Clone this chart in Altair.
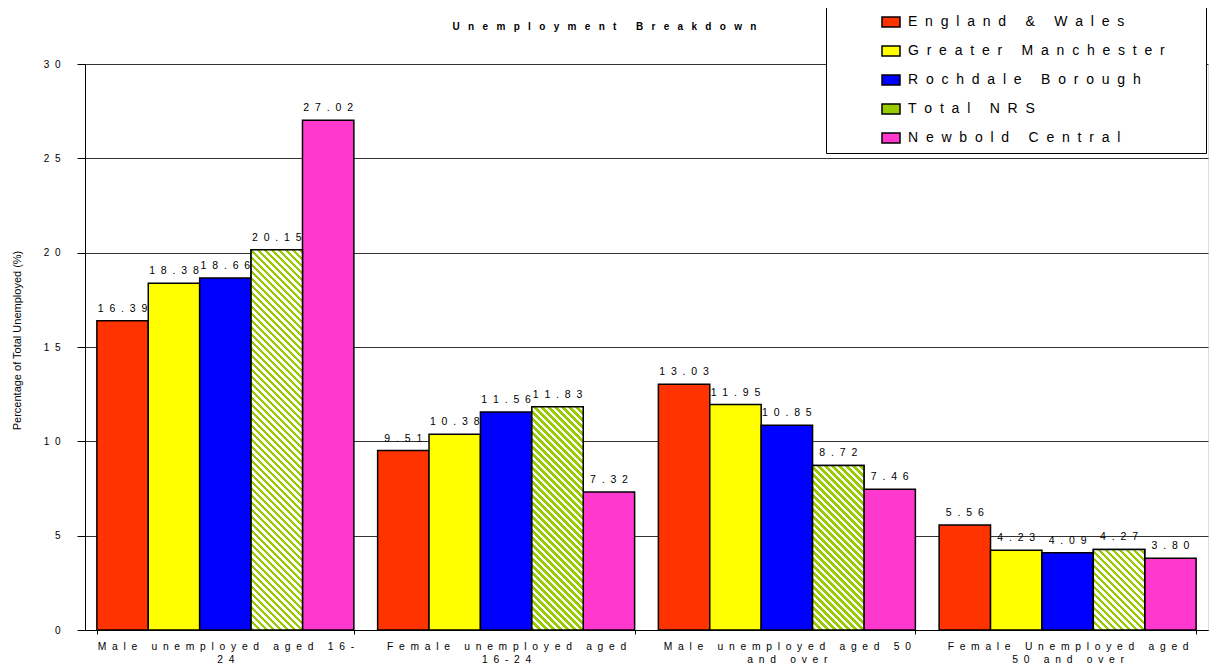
import altair as alt
import pandas as pd

# ---------------- data ----------------
categories = [
    "Male unemployed aged 16-24",
    "Female unemployed aged 16-24",
    "Male unemployed aged 50 and over",
    "Female Unemployed aged 50 and over",
]
category_lines = [
    ["Male unemployed aged 16-", "24"],
    ["Female unemployed aged", "16-24"],
    ["Male unemployed aged 50", "and over"],
    ["Female Unemployed aged", "50 and over"],
]
series = ["England & Wales", "Greater Manchester", "Rochdale Borough", "Total NRS", "Newbold Central"]
england_wales = [16.39, 9.51, 13.03, 5.56]
greater_manchester = [18.38, 10.38, 11.95, 4.23]
rochdale_borough = [18.66, 11.56, 10.85, 4.09]
total_nrs = [20.15, 11.83, 8.72, 4.27]
newbold_central = [27.02, 7.32, 7.46, 3.80]
series_values = [england_wales, greater_manchester, rochdale_borough, total_nrs, newbold_central]
colors = ["#ff3300", "#ffff00", "#0000ff", "#99cc00", "#ff38ce"]

NB = "\u00a0"
BLANK = "\u2800"  # blank (non-whitespace) filler to widen the legend box


def spaced(s, n=2):
    return (NB * n).join(ch if ch != " " else NB for ch in s)


cat_labels = ["|".join(spaced(l) for l in lines) for lines in category_lines]
ser_labels = [spaced(s) for s in series]

rows = []
for si, (s, vals) in enumerate(zip(series, series_values)):
    for ci, c in enumerate(categories):
        v = vals[ci]
        rows.append({
            "category": c,
            "cat_label": cat_labels[ci],
            "series": s,
            "ser_label": ser_labels[si],
            "value": v,
            "value_text": spaced(f"{v:.2f}"),
        })
df = pd.DataFrame(rows)

# ---------------- layout ----------------
W, H = 1123, 566
YMAX = 30
PAD_INNER = 0.0846
PAD_OUTER = PAD_INNER / 2
step = W / (len(categories) - PAD_INNER + 2 * PAD_OUTER)
bar_w = step * (1 - PAD_INNER) / len(series)

x_enc = alt.X(
    "cat_label:N",
    sort=cat_labels,
    scale=alt.Scale(paddingInner=PAD_INNER, paddingOuter=PAD_OUTER),
    axis=alt.Axis(
        title=None,
        labelAngle=0,
        labelExpr="split(datum.label, '|')",
        labelFont="Liberation Sans",
        labelFontSize=10.3,
        labelColor="black",
        labelBaseline="top",
        labelLineHeight=13,
        labelPadding=7,
        labelLimit=400,
        tickBand="extent",
        tickSize=4,
        tickColor="black",
        domainColor="black",
        grid=False,
    ),
)
xoff_enc = alt.XOffset("ser_label:N", sort=ser_labels, scale=alt.Scale(domain=ser_labels))
y_enc = alt.Y(
    "value:Q",
    scale=alt.Scale(domain=[0, YMAX], nice=False),
    axis=alt.Axis(
        title="Percentage of Total Unemployed (%)",
        titleFont="Liberation Sans",
        titleFontSize=11,
        titleFontWeight="normal",
        titleColor="black",
        titleAngle=-90,
        titleAlign="center",
        titleBaseline="middle",
        titleX=-68,
        titleY=276,
        values=[0, 5, 10, 15, 20, 25, 30],
        labelExpr=f"join(split(datum.label, ''), '{NB * 2}')",
        labelFont="Liberation Sans",
        labelFontSize=10,
        labelColor="black",
        labelPadding=17,
        tickSize=8,
        tickColor="black",
        domainColor="black",
        grid=True,
        gridColor="#333333",
        gridWidth=1,
    ),
)

base = alt.Chart(df)

bars = base.mark_bar(stroke="black", strokeWidth=1.5).encode(
    x=x_enc,
    xOffset=xoff_enc,
    y=y_enc,
    color=alt.Color(
        "ser_label:N",
        sort=ser_labels,
        scale=alt.Scale(domain=ser_labels, range=colors),
        legend=alt.Legend(
            title=None,
            orient="none",
            legendX=741,
            legendY=-59,
            direction="vertical",
            fillColor="white",
            strokeColor="black",
            padding=7,
            symbolType="M-1,-0.55H1V0.55H-1Z",
            symbolSize=324,
            symbolStrokeColor="black",
            symbolStrokeWidth=1.5,
            symbolOffset=48,
            labelOffset=7,
            labelFont="Liberation Sans",
            labelFontSize=14,
            labelColor="black",
            labelLimit=600,
            rowPadding=11,
            labelExpr="datum.label + '" + NB * 6 + BLANK + "'",
        ),
    ),
)

# striped overlay for the Total NRS bars (diagonal hatch via linear gradient)
PERIOD = 7.0
GREEN = "#99cc00"
stripe_layers = []
for ci, c in enumerate(categories):
    v = total_nrs[ci]
    h = v / YMAX * H
    w = bar_w
    k = (w + h) / (w * w + h * h)
    total = w + h
    stops = []
    n = int(total / PERIOD) + 2
    for i in range(n):
        a = min(1.0, i * PERIOD / total)
        b = min(1.0, (i + 0.5) * PERIOD / total)
        e = min(1.0, (i + 1) * PERIOD / total)
        stops += [
            {"offset": a, "color": GREEN},
            {"offset": b, "color": GREEN},
            {"offset": b, "color": "white"},
            {"offset": e, "color": "white"},
        ]
        if e >= 1.0:
            break
    grad = {
        "gradient": "linear",
        "x1": 0,
        "y1": 1,
        "x2": k * w,
        "y2": 1 - k * h,
        "stops": stops,
    }
    layer = (
        base.transform_filter(
            (alt.datum.series == "Total NRS") & (alt.datum.category == c)
        )
        .mark_bar(fill=grad, stroke="black", strokeWidth=1.5)
        .encode(x=x_enc, xOffset=xoff_enc, y=y_enc)
    )
    stripe_layers.append(layer)

labels = base.mark_text(
    baseline="bottom", dy=-7, font="Liberation Sans", fontSize=10.5, color="black"
).encode(x=x_enc, xOffset=xoff_enc, y=y_enc, text="value_text:N")

chart = (
    alt.layer(bars, *stripe_layers, labels)
    .properties(
        width=W,
        height=H,
        padding={"left": 77, "top": 56, "right": 1, "bottom": 36},
        autosize=alt.AutoSizeParams(type="none"),
        title=alt.Title(
            spaced("Unemployment Breakdown", 3),
            font="Liberation Sans",
            fontSize=10,
            fontWeight="bold",
            color="black",
            anchor="middle",
            frame="group",
            dx=-42,
            offset=-27,
        ),
    )
    .configure_view(stroke="#333333", strokeWidth=1)
    .configure(background="white")
)

chart.save("out.html", embed_options={"renderer": "svg", "actions": False})
